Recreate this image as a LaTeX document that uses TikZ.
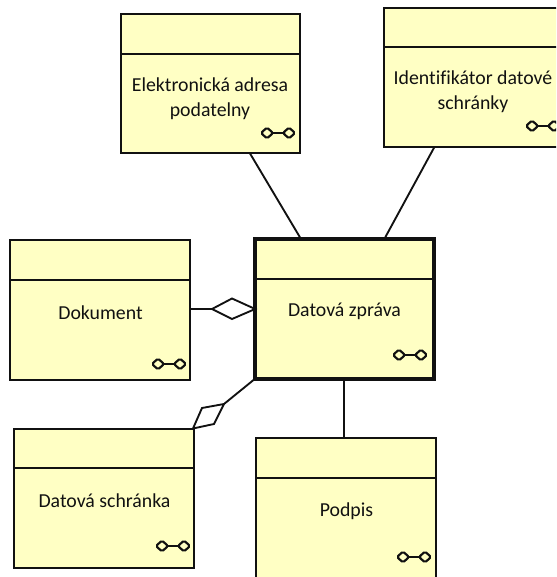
\documentclass[tikz,border=0pt]{standalone}
\usepackage{fontspec}
\setmainfont[Ligatures=NoCommon]{Carlito}
\usetikzlibrary{calc}
\definecolor{boxfill}{HTML}{FFFFC4}
\definecolor{ink}{HTML}{111111}
\tikzset{
  x=0.75pt,y=-0.75pt,
  boxnode/.style={draw=ink,fill=boxfill,line width=1.4pt,minimum width=134.5pt,minimum height=104.5pt,inner sep=0pt,outer sep=0pt},
  mainbox/.style={boxnode,line width=3pt,minimum width=134pt,minimum height=104.5pt},
  lbl/.style={font=\fontsize{14.85}{18.9}\selectfont,text=ink,align=center,inner sep=0pt},
  rel/.style={draw=ink,line width=1.4pt},
  dia/.style={draw=ink,fill=white,line width=1.4pt,line join=miter},
  divider/.style={draw=ink,line width=1.4pt},
  glasses/.pic={
    \draw[ink,line width=1.6pt,fill=none,rounded corners=1.2pt]
      (-17,0) -- (-11,-5.5) -- (-5,0) -- (-11,5.5) -- cycle
      (5,0) -- (11,-5.5) -- (17,0) -- (11,5.5) -- cycle;
    \draw[ink,line width=1.4pt] (-5,0) -- (5,0);
  }
}
\begin{document}
\begin{tikzpicture}
\useasboundingbox (0,0) rectangle (556,577);
\clip (0,0) rectangle (556,577);
\node[boxnode] (adr) at (210.5,83.5) {};
\node[boxnode] (idn) at (474,77.5) {};
\node[boxnode] (dok) at (100,310) {};
\node[mainbox] (zpr) at (344.5,309) {};
\node[boxnode] (sch) at (104,498.5) {};
\node[boxnode] (pod) at (346,508) {};

\draw[divider] ([yshift=-30pt]adr.north west) -- ([yshift=-30pt]adr.north east);
\draw[divider] ([yshift=-29.5pt]idn.north west) -- ([yshift=-29.5pt]idn.north east);
\draw[divider] ([yshift=-30pt]dok.north west) -- ([yshift=-30pt]dok.north east);
\draw[divider] ([yshift=-29.5pt]zpr.north west) -- ([yshift=-29.5pt]zpr.north east);
\draw[divider] ([yshift=-29.5pt]sch.north west) -- ([yshift=-29.5pt]sch.north east);
\draw[divider] ([yshift=-30pt]pod.north west) -- ([yshift=-30pt]pod.north east);

\node[lbl] (tadr) at (210,98.5) {Elektronická adresa\\podatelny};
\node[lbl] (tidn) at (473,92) {Identifikátor datové\\schránky};
\node[lbl] (tdok) at (100.5,313) {Dokument};
\node[lbl] (tzpr) at (344.5,311.5) {Datová zpráva};
\node[lbl] (tsch) at (104.5,501) {Datová schránka};
\node[lbl] (tpod) at (346.5,511) {Podpis};

\pic at (278,133) {glasses};
\pic at (543,126) {glasses};
\pic at (169,364) {glasses};
\pic at (410,355) {glasses};
\pic at (173,546) {glasses};
\pic at (414,557) {glasses};

% connectors
\draw[rel] ([xshift=96.75pt]adr.south west) -- ([xshift=34.5pt]zpr.north west);
\draw[rel] ([xshift=37.5pt]idn.south west) -- ([xshift=96.75pt]zpr.north west);
\draw[rel] ([xshift=-0.4pt]zpr.south) -- ([xshift=-0.4pt]pod.north -| zpr.south);

% aggregation diamonds
\coordinate (d1l) at (212,309);
\coordinate (d1t) at (232,298.5);
\coordinate (d1b) at (232,319);
\draw[rel] (dok.east |- d1l) -- (d1l);
\draw[dia] (d1l) -- (d1t) -- (zpr.west |- d1l) -- (d1b) -- cycle;
\coordinate (d2a) at (193,428.5);
\coordinate (d2b) at (202,408);
\coordinate (d2c) at (224,404);
\coordinate (d2d) at (214,424);
\draw[rel] (d2c) -- (zpr.south west);
\draw[dia] (d2a) -- (d2b) -- (d2c) -- (d2d) -- cycle;
\end{tikzpicture}
\end{document}
